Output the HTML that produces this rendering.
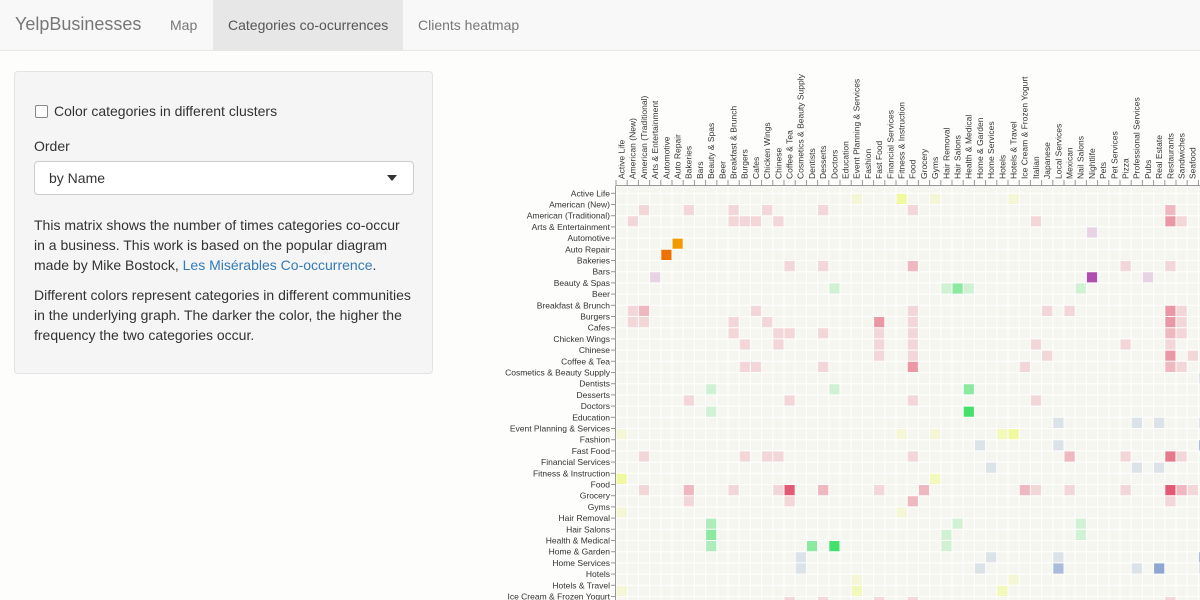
<!DOCTYPE html>
<html><head><meta charset="utf-8">
<style>
body{margin:0;width:1200px;height:600px;overflow:hidden;background:#fdfdfb;font-family:"Liberation Sans",sans-serif;color:#333;position:relative}
.nav{position:absolute;left:0;top:0;width:1200px;height:50px;background:#f8f8f8;border-bottom:1px solid #e7e7e7}
.brand{position:absolute;left:15px;top:14px;font-size:18px;color:#777}
.ni{position:absolute;top:0;height:50px;line-height:50px;font-size:14px;color:#777;padding:0 15px}
.panel{position:absolute;left:14px;top:71px;width:417px;height:301px;background:#f5f5f5;border:1px solid #e3e3e3;border-radius:4px;font-size:14px}
.sel{position:absolute;left:19px;top:89px;width:378px;height:32px;background:#fff;border:1px solid #ccc;border-radius:4px}
p{margin:0;position:absolute;left:19px;width:380px;line-height:20px}
a{color:#337ab7;text-decoration:none}
svg{position:absolute;left:0;top:0}
</style></head><body>
<div class="nav">
<div class="brand">YelpBusinesses</div>
<div class="ni" style="left:155px">Map</div>
<div class="ni" style="left:213px;background:#e7e7e7;color:#555">Categories co-ocurrences</div>
<div class="ni" style="left:403px">Clients heatmap</div>
</div>
<div class="panel">
<div style="position:absolute;left:20px;top:33px;width:11px;height:11px;border:1px solid #888;border-radius:2px;background:#fff"></div>
<div style="position:absolute;left:39px;top:31px">Color categories in different clusters</div>
<div style="position:absolute;left:19px;top:66px">Order</div>
<div class="sel"><span style="position:absolute;left:14px;top:8px">by Name</span><span style="position:absolute;right:16px;top:13px;border-left:5px solid transparent;border-right:5px solid transparent;border-top:6px solid #333"></span></div>
<p style="top:143px">This matrix shows the number of times categories co-occur in a business. This work is based on the popular diagram made by Mike Bostock, <a>Les Misérables Co-occurrence</a>.</p>
<p style="top:213px">Different colors represent categories in different communities in the underlying graph. The darker the color, the higher the frequency the two categories occur.</p>
</div>
<svg id="m" width="1200" height="600"></svg>
<script>
const categories=["Active Life","American (New)","American (Traditional)","Arts & Entertainment","Automotive","Auto Repair","Bakeries","Bars","Beauty & Spas","Beer","Breakfast & Brunch","Burgers","Cafes","Chicken Wings","Chinese","Coffee & Tea","Cosmetics & Beauty Supply","Dentists","Desserts","Doctors","Education","Event Planning & Services","Fashion","Fast Food","Financial Services","Fitness & Instruction","Food","Grocery","Gyms","Hair Removal","Hair Salons","Health & Medical","Home & Garden","Home Services","Hotels","Hotels & Travel","Ice Cream & Frozen Yogurt","Italian","Japanese","Local Services","Mexican","Nail Salons","Nightlife","Pets","Pet Services","Pizza","Professional Services","Pubs","Real Estate","Restaurants","Sandwiches","Seafood","Shopping","Skin Care"];
const cellData=`0,21,Y,1;0,25,Y,3;0,28,Y,1;0,35,Y,1;1,2,P,1;1,6,P,1;1,10,P,1;1,13,P,1;1,18,P,1;1,26,P,1;1,49,P,2;2,1,P,1;2,10,P,1;2,11,P,1;2,12,P,1;2,14,P,1;2,37,P,1;2,49,P,3;2,50,P,1;3,42,U,1;4,5,O,6;5,4,R,6;6,15,P,1;6,18,P,1;6,26,P,2;6,45,P,1;6,49,P,1;7,3,U,1;7,42,U,5;7,47,U,1;8,19,G,1;8,29,G,1;8,30,G,3;8,31,G,1;8,41,G,1;10,1,P,1;10,2,P,2;10,12,P,1;10,26,P,1;10,38,P,1;10,40,P,1;10,49,P,3;10,50,P,1;11,1,P,1;11,2,P,1;11,10,P,1;11,13,P,1;11,23,P,3;11,26,P,1;11,49,P,3;11,50,P,1;12,10,P,1;12,14,P,1;12,15,P,1;12,18,P,1;12,23,P,1;12,26,P,1;12,49,P,2;12,50,P,1;13,11,P,1;13,14,P,1;13,23,P,1;13,26,P,1;13,37,P,1;13,45,P,1;13,49,P,1;14,23,P,1;14,26,P,1;14,38,P,1;14,49,P,3;14,51,P,1;15,11,P,1;15,12,P,1;15,18,P,1;15,26,P,3;15,36,P,1;15,49,P,2;15,50,P,1;16,52,B,1;17,8,G,1;17,19,G,1;17,31,G,3;18,6,P,1;18,15,P,1;18,26,P,1;18,37,P,1;19,8,G,1;19,31,G,5;20,39,B,1;20,46,B,1;20,48,B,1;20,52,B,1;21,0,Y,1;21,25,Y,1;21,28,Y,1;21,34,Y,2;21,35,Y,3;22,32,B,1;22,39,B,1;22,52,B,3;23,2,P,1;23,11,P,1;23,13,P,1;23,14,P,1;23,26,P,1;23,40,P,2;23,45,P,1;23,49,P,4;23,50,P,1;24,33,B,1;24,46,B,1;24,48,B,1;25,0,Y,3;25,28,Y,2;26,2,P,1;26,6,P,2;26,10,P,1;26,14,P,1;26,15,P,5;26,18,P,2;26,23,P,1;26,27,P,2;26,36,P,2;26,37,P,1;26,40,P,1;26,45,P,1;26,49,P,5;26,50,P,2;26,51,P,1;27,6,P,1;27,15,P,1;27,26,P,2;27,49,P,1;28,0,Y,1;28,25,Y,1;29,8,G,2;29,30,G,1;29,41,G,1;30,8,G,3;30,29,G,1;30,41,G,1;31,8,G,2;31,17,G,3;31,19,G,5;31,29,G,1;32,16,B,1;32,33,B,1;32,39,B,1;32,52,B,3;33,16,B,1;33,32,B,1;33,39,B,3;33,46,B,1;33,48,B,4;33,52,B,1;34,21,Y,1;34,35,Y,1;35,0,Y,1;35,21,Y,2;35,34,Y,2;36,15,P,1;36,18,P,1;36,23,P,1;36,26,P,1;36,49,P,1;37,26,P,1;37,49,P,1`;
const cellRows=[],cellCols=[],cellGroups=[],cellValues=[];
cellData.split(';').forEach(s=>{const a=s.split(',');cellRows.push(+a[0]);cellCols.push(+a[1]);cellGroups.push(a[2]);cellValues.push(+a[3]);});
const groupColors={P:"#e03a5c",O:"#f29a00",R:"#ee7200",U:"#a02ca0",G:"#1fdc50",Y:"#ecfc50",B:"#5a80c0"};
const NS="http://www.w3.org/2000/svg",svg=document.getElementById('m');
const X0=616,Y0=193.3,CW=11.2,TOP=186;
const colX=j=>X0+j*CW, rowY=i=>Y0+i*CW;
function mk(t,at){const e=document.createElementNS(NS,t);for(const k in at)e.setAttribute(k,at[k]);svg.appendChild(e);return e;}
let bg=mk('rect',{x:X0,y:TOP,width:1200-X0,height:600-TOP,fill:'#f6f6f1'});


cellRows.forEach((r,k)=>{
  const c=mk('rect',{x:colX(cellCols[k]),y:rowY(r),width:CW,height:CW,fill:groupColors[cellGroups[k]],'fill-opacity':Math.min(1,cellValues[k]/6)});
  
  
});
for(let j=0;j<=60;j++){const x=colX(j);if(x>1200)break;mk('line',{x1:x,x2:x,y1:TOP,y2:600,stroke:'#fff','stroke-width':1});}
for(let i=-1;i<=40;i++){const y=rowY(i);if(y>600)break;if(y<TOP)continue;mk('line',{x1:X0,x2:1200,y1:y,y2:y,stroke:'#fff','stroke-width':1});}
mk('line',{x1:X0-0.5,x2:X0-0.5,y1:TOP,y2:600,stroke:'#999'});
mk('line',{x1:X0,x2:1200,y1:TOP-0.5,y2:TOP-0.5,stroke:'#999'});
categories.forEach((name,i)=>{
  const y=rowY(i);
  if(y<600){
    mk('line',{x1:X0-5,x2:X0,y1:y,y2:y,stroke:'#999'});
    const t=mk('text',{x:X0-6,y:y+3,'text-anchor':'end','font-size':'8.5px',fill:'#333'});t.textContent=name;
    
    
  }
  const x=colX(i);
  if(x<1200){
    mk('line',{x1:x,x2:x,y1:TOP-6,y2:TOP,stroke:'#999'});
    const t=mk('text',{x:0,y:0,transform:`translate(${x+8.5},179) rotate(-90)`,'font-size':'8.5px',fill:'#333'});t.textContent=name;
    
    
  }
});
</script>
</body></html>
